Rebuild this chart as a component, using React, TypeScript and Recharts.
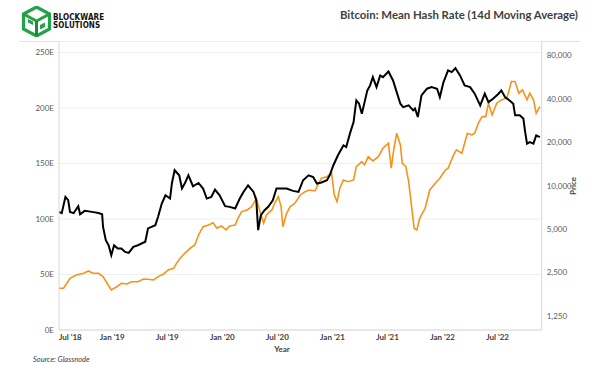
import { CartesianGrid, Line, LineChart, XAxis, YAxis } from "recharts";

// x values are months counted from Jan 2018 (6 = Jul '18)
const hashMonths = [
  6.2, 6.7, 7.4, 8.1, 8.9, 9.4, 9.9, 10.5, 11.0, 11.4,
  11.9, 12.5, 13.0, 13.6, 14.1, 14.8, 15.4, 15.9, 16.5, 17.0,
  17.6, 18.1, 18.7, 19.0, 19.4, 19.9, 20.5, 21.0, 21.4, 21.9,
  22.5, 23.0, 23.4, 23.9, 24.4, 24.8, 25.4, 25.7, 26.1, 26.7,
  27.2, 27.7, 28.1, 28.5, 28.8, 29.4, 29.7, 30.1, 30.4, 30.6,
  31.0, 31.4, 31.9, 32.5, 33.0, 33.5, 34.1, 34.5, 34.8, 35.4,
  35.9, 36.2, 36.5, 36.8, 37.2, 37.7, 38.3, 38.6, 39.2, 39.5,
  39.9, 40.4, 41.0, 41.5, 42.1, 42.4, 42.7, 43.0, 43.4, 43.6,
  44.0, 44.3, 44.6, 44.9, 45.2, 45.5, 46.1, 46.6, 47.2, 47.7,
  48.3, 48.6, 49.2, 49.5, 50.1, 50.4, 50.7, 51.2, 51.5, 51.9,
  52.3, 52.7, 53.0, 53.4, 53.9, 54.4, 55.0, 55.5, 55.9, 56.3,
  56.7, 57.2, 57.5, 57.9, 58.2, 58.6,
];

// mean hash rate, EH/s
const hashRate = [
  37.6, 37.6, 46.6, 49.6, 51.1, 53.2, 51.1, 51.1, 48.1, 42.6,
  36.1, 39.0, 42.1, 41.5, 43.5, 43.5, 46.0, 45.7, 45.1, 48.1,
  50.5, 54.1, 55.6, 60.1, 64.6, 69.1, 73.7, 76.6, 85.6, 93.1,
  94.7, 96.7, 91.7, 93.8, 90.2, 93.8, 94.7, 100.7, 106.7, 108.2,
  111.2, 118.7, 106.7, 96.2, 103.7, 108.2, 114.2, 120.2, 111.2, 93.1,
  105.2, 111.2, 114.2, 121.7, 124.7, 126.2, 125.3, 132.3, 136.8, 138.2,
  141.3, 121.7, 115.7, 127.8, 135.2, 133.7, 135.2, 147.2, 151.7, 148.8,
  156.2, 152.4, 156.2, 163.8, 168.3, 145.8, 163.8, 177.3, 166.8, 150.3,
  147.2, 133.7, 112.7, 91.7, 90.2, 100.7, 109.7, 126.2, 132.3, 136.8,
  144.2, 145.8, 157.8, 162.3, 159.3, 168.3, 177.3, 175.8, 177.3, 186.4,
  192.3, 192.3, 204.4, 193.8, 204.4, 207.4, 208.9, 223.9, 223.9, 213.4,
  216.4, 207.4, 213.4, 207.4, 195.4, 201.3,
];

const priceMonths = [
  6.2, 6.5, 6.9, 7.2, 7.4, 7.8, 8.3, 8.5, 9.0, 9.8,
  10.5, 10.9, 11.0, 11.3, 11.6, 11.9, 12.2, 12.6, 13.0, 13.4,
  13.8, 14.3, 14.8, 15.6, 15.9, 16.7, 17.0, 17.4, 17.8, 18.3,
  18.5, 18.8, 19.3, 19.6, 19.9, 20.3, 20.8, 21.4, 21.9, 22.3,
  22.8, 23.2, 23.7, 24.3, 24.8, 25.4, 25.9, 26.3, 26.8, 27.4,
  27.7, 27.9, 28.2, 28.6, 29.0, 29.5, 29.9, 30.5, 31.0, 31.7,
  32.3, 32.8, 33.4, 33.9, 34.3, 34.8, 35.4, 35.7, 36.1, 36.6,
  37.2, 37.5, 37.9, 38.3, 38.6, 38.9, 39.2, 39.5, 39.8, 40.1,
  40.4, 40.8, 41.2, 41.5, 42.1, 42.6, 43.0, 43.4, 43.7, 44.3,
  44.8, 45.0, 45.3, 45.7, 46.3, 46.8, 47.4, 47.7, 48.1, 48.6,
  49.0, 49.4, 49.9, 50.4, 51.0, 51.5, 52.1, 52.6, 53.0, 53.5,
  54.1, 54.4, 54.8, 55.3, 55.7, 55.9, 56.4, 56.8, 57.0, 57.2,
  57.5, 57.9, 58.2, 58.6,
];

// BTC price, USD
const btcPrice = [
  6590, 6460, 8370, 7940, 6590, 6460, 7220, 6350, 6700, 6590,
  6480, 6350, 5180, 4190, 3870, 3300, 3870, 3670, 3670, 3480,
  3420, 3770, 3870, 4090, 5060, 5330, 6090, 7530, 8590, 8150,
  10360, 12810, 11820, 9570, 10360, 11820, 9920, 10460, 9570, 8150,
  8370, 9410, 8590, 7220, 7140, 6960, 8150, 9060, 10070, 9060,
  7940, 4920, 6250, 6770, 7140, 7940, 9570, 9570, 9570, 9210,
  9060, 10920, 11820, 11500, 10360, 10540, 10920, 11820, 13870, 16260,
  19070, 18550, 22980, 27650, 39050, 37040, 31600, 38000, 45820, 49590,
  56620, 48290, 58190, 56620, 61980, 53720, 44590, 37040, 35080, 36060,
  33320, 34230, 29940, 42320, 47060, 48290, 47060, 41170, 52280, 62990,
  61300, 65340, 58190, 49590, 48290, 43470, 36060, 43470, 38000, 40140,
  43470, 45820, 41170, 39050, 37040, 30760, 30760, 29210, 23550, 19590,
  20100, 19590, 22340, 21740,
];

const xTickMonths = [6, 12, 18, 24, 30, 36, 42, 48, 54];
const xTickLabels = ["Jul '18", "Jan '19", "Jul '19", "Jan '20", "Jul '20", "Jan '21", "Jul '21", "Jan '22", "Jul '22"];
const hashTicks = [0, 50, 100, 150, 200, 250];
const priceTicks = [1250, 2500, 5000, 10000, 20000, 40000, 80000];

const X_START = 6.2;
const X_END = 58.8;

const hashData = hashMonths.map((m, i) => ({ m, hash: hashRate[i] }));
const priceData = priceMonths.map((m, i) => ({ m, price: btcPrice[i] }));

const FONT = "Lato, 'Open Sans', sans-serif";

const XTick = (props: any) => {
  const { x, y, index } = props;
  return (
    <text
      x={x}
      y={y}
      dy={7}
      textAnchor={index === 0 ? "start" : "middle"}
      fontSize={8}
      fontWeight={700}
      fill="#404040"
      fontFamily={FONT}
    >
      {xTickLabels[index]}
    </text>
  );
};

const Logo = () => (
  <div style={{ position: "absolute", left: 21, top: 6, display: "flex", alignItems: "center" }}>
    <svg width={31} height={31} viewBox="0 0 31 31">
      <polygon points="15.5,1 28.5,8 28.5,23 15.5,30 2.5,23 2.5,8" fill="none" stroke="#23a347" strokeWidth={3.2} />
      <polyline points="2.5,8 15.5,15 28.5,8" fill="none" stroke="#23a347" strokeWidth={3} />
      <line x1={15.5} y1={15} x2={15.5} y2={30} stroke="#1c8a3a" strokeWidth={3} />
      <path d="M7 13 L12 15.5 L12 19 L7 16.5 Z" fill="#23a347" />
      <path d="M19 19 L24 16.5 L24 21 L19 23.5 Z" fill="#23a347" />
    </svg>
    <div
      style={{
        marginLeft: 1,
        fontFamily: "'Liberation Sans Narrow', 'DejaVu Sans Condensed', sans-serif",
        fontWeight: 700,
        fontSize: 8,
        lineHeight: "8px",
        color: "#111",
        letterSpacing: 0.1,
      }}
    >
      <div>BLOCKWARE</div>
      <div>SOLUTIONS</div>
    </div>
  </div>
);

const App = () => {
  return (
    <div style={{ position: "absolute", left: 0, top: 0, width: 600, height: 375, background: "#fff", fontFamily: FONT }}>
      <Logo />
      <div
        style={{
          position: "absolute",
          right: 22,
          top: 8,
          fontSize: 11.4,
          fontWeight: 700,
          color: "#404040",
          whiteSpace: "nowrap",
        }}
      >
        Bitcoin: Mean Hash Rate (14d Moving Average)
      </div>
      <div style={{ position: "absolute", left: 19, top: 41, width: 561, height: 1, background: "#e2e2e2" }} />

      <LineChart
        width={600}
        height={375}
        margin={{ top: 41.5, right: 0, bottom: 25, left: 0 }}
        style={{ position: "absolute", left: 0, top: 0 }}
      >
        <CartesianGrid horizontal vertical={false} stroke="#efefef" />
        <XAxis
          dataKey="m"
          type="number"
          domain={[X_START, X_END]}
          allowDataOverflow
          ticks={xTickMonths.map((t) => Math.max(t, X_START))}
          tick={<XTick />}
          tickLine={false}
          tickSize={0}
          tickMargin={3}
          height={20}
          axisLine={{ stroke: "#d9d9d9" }}
        />
        <YAxis
          type="number"
          domain={[0, 260]}
          ticks={hashTicks}
          allowDataOverflow
          width={59}
          tickLine={false}
          tickSize={0}
          tickMargin={5}
          axisLine={{ stroke: "#d9d9d9" }}
          tickFormatter={(v: number) => `${v}E`}
          tick={{ fontSize: 8, fill: "#595959", fontFamily: FONT }}
        />
        <YAxis
          yAxisId="right"
          orientation="right"
          type="number"
          scale="log"
          domain={[1000, 100000]}
          ticks={priceTicks}
          allowDataOverflow
          width={58.3}
          tickLine={false}
          tickSize={0}
          tickMargin={5}
          axisLine={{ stroke: "#d9d9d9" }}
          tickFormatter={(v: number) => v.toLocaleString("en-US")}
          tick={{ fontSize: 8, fill: "#595959", fontFamily: FONT, textAnchor: "start" }}
        />
        <Line
          data={hashData}
          dataKey="hash"
          type="linear"
          stroke="#F7931A"
          strokeWidth={1.6}
          dot={false}
          isAnimationActive={false}
        />
        <Line
          data={priceData}
          yAxisId="right"
          dataKey="price"
          type="linear"
          stroke="#000000"
          strokeWidth={2}
          dot={false}
          isAnimationActive={false}
        />
      </LineChart>

      <div
        style={{
          position: "absolute",
          left: 282,
          top: 349,
          transform: "translate(-50%, -50%)",
          fontSize: 8,
          fontWeight: 700,
          color: "#404040",
        }}
      >
        Year
      </div>
      <div
        style={{
          position: "absolute",
          left: 573,
          top: 186,
          transform: "translate(-50%, -50%) rotate(-90deg)",
          fontSize: 8,
          fontWeight: 700,
          color: "#404040",
        }}
      >
        Price
      </div>
      <div
        style={{
          position: "absolute",
          left: 33,
          top: 359,
          transform: "translateY(-50%)",
          fontSize: 7.5,
          fontStyle: "italic",
          color: "#404040",
        }}
      >
        Source: Glassnode
      </div>
    </div>
  );
};

export default App;
